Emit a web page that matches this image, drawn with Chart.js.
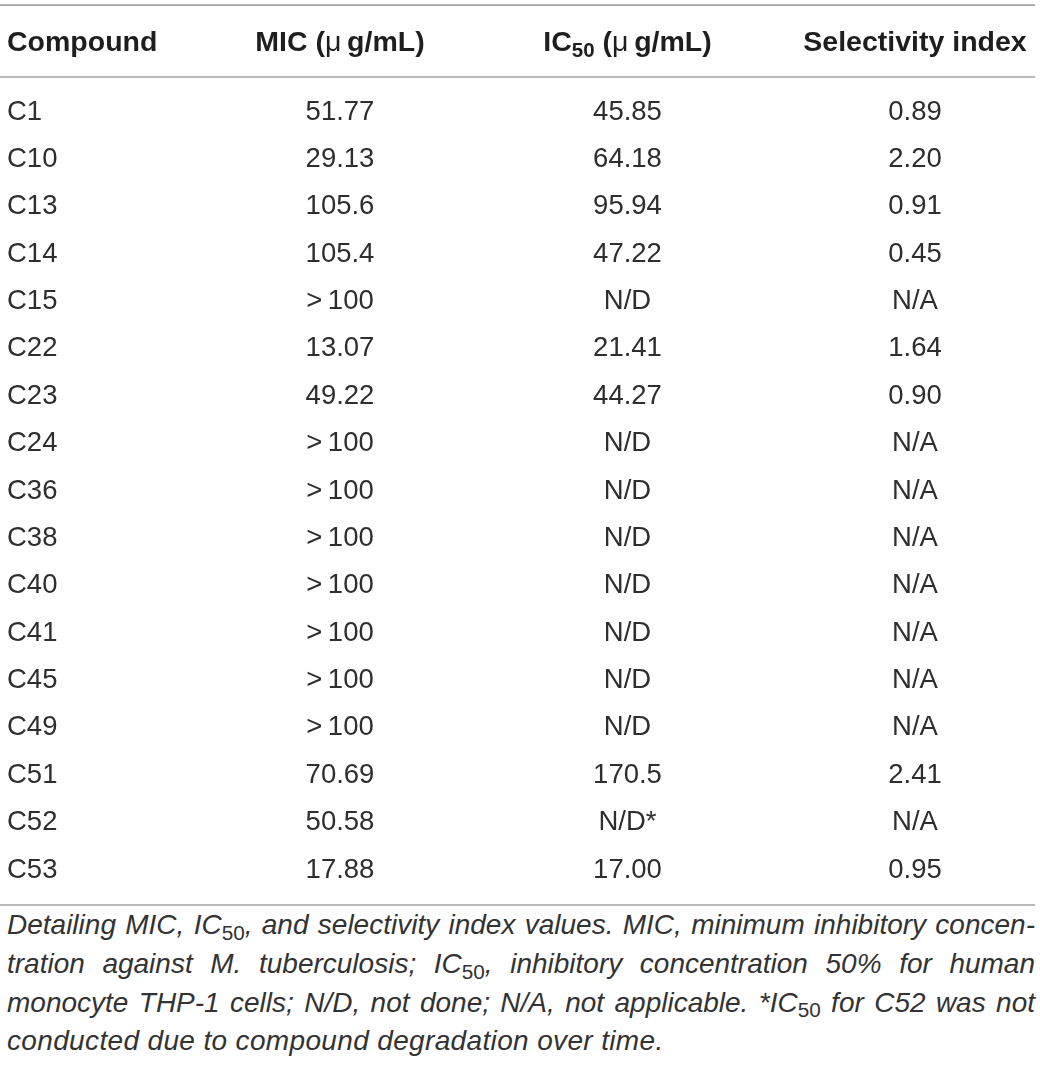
<!DOCTYPE html>
<html>
<head>
<meta charset="utf-8">
<script src="https://cdn.jsdelivr.net/npm/chart.js@4/dist/chart.umd.min.js"></script>
<style>
  html, body { margin: 0; padding: 0; background: #fff; }
  #wrap { position: relative; width: 1040px; height: 1066px; overflow: hidden; }
  #box { position: absolute; left: 0; top: 0; width: 1040px; height: 906px; }
  #caption { position: absolute; left: 7px; top: 906px; width: 1028px;
    font-family: "Liberation Sans", Arial, Helvetica, sans-serif; font-style: italic;
    font-size: 28px; color: #333; }
  #caption div { height: 38.8px; line-height: 38.8px; white-space: nowrap; }
  #caption .j { text-align: justify; text-align-last: justify; }
  #caption .last { letter-spacing: 0.35px; }
  #caption sub { font-style: normal; font-size: 0.74em; line-height: 0; vertical-align: baseline; position: relative; top: 0.28em; }
</style>
</head>
<body>
<div id="wrap">
  <div id="box"><canvas id="c"></canvas></div>
  <div id="caption">
    <div class="j">Detailing MIC, IC<sub>50</sub>, and selectivity index values. MIC, minimum inhibitory concen-</div>
    <div class="j">tration against M. tuberculosis; IC<sub>50</sub>, inhibitory concentration 50% for human</div>
    <div class="j">monocyte THP-1 cells; N/D, not done; N/A, not applicable. *IC<sub>50</sub> for C52 was not</div>
    <div class="last">conducted due to compound degradation over time.</div>
  </div>
</div>
<script>
// ---- data ----
const compounds = ['C1','C10','C13','C14','C15','C22','C23','C24','C36','C38','C40','C41','C45','C49','C51','C52','C53'];
const micValues = ['51.77','29.13','105.6','105.4','>100','13.07','49.22','>100','>100','>100','>100','>100','>100','>100','70.69','50.58','17.88'];
const ic50Values = ['45.85','64.18','95.94','47.22','N/D','21.41','44.27','N/D','N/D','N/D','N/D','N/D','N/D','N/D','170.5','N/D*','17.00'];
const siValues = ['0.89','2.20','0.91','0.45','N/A','1.64','0.90','N/A','N/A','N/A','N/A','N/A','N/A','N/A','2.41','N/A','0.95'];
const columnKeys = ['MIC','IC50','SI'];
const headerFirst = 'Compound';
const headerSegments = [
  [{t:'MIC (', b:true}, {t:'\u03bc', b:false}, {t:'\u2009g/mL)', b:true}],
  [{t:'IC', b:true}, {t:'50', b:true, sub:true}, {t:' (', b:true}, {t:'\u03bc', b:false}, {t:'\u2009g/mL)', b:true}],
  [{t:'Selectivity index', b:true}]
];

const FAMILY = '"Liberation Sans", Arial, Helvetica, sans-serif';
const BODY_SIZE = 27.5;
const HEAD_SIZE = 28.5;
const TEXT_COLOR = '#2e2e2e';
const HEAD_COLOR = '#1e1e1e';
const RULE_COLOR = '#a3a3a3';

function fmt(s) { return s.replace('>', '>\u2009'); }

const datasets = [micValues, ic50Values, siValues].map((vals, ci) => ({
  label: columnKeys[ci],
  data: compounds.map((c, ri) => ({ x: columnKeys[ci], y: c, text: fmt(vals[ri]) })),
  pointRadius: 0, pointHoverRadius: 0, showLine: false
}));

function drawRich(ctx, segs, x, y, align, size) {
  const fontFor = s => (s.b ? 'bold ' : '') + (s.sub ? size * 0.72 : size) + 'px ' + FAMILY;
  let total = 0;
  segs.forEach(s => { ctx.font = fontFor(s); total += ctx.measureText(s.t).width; });
  let cx = align === 'center' ? x - total / 2 : x;
  ctx.textAlign = 'left';
  ctx.textBaseline = 'middle';
  segs.forEach(s => {
    ctx.font = fontFor(s);
    ctx.fillText(s.t, cx, s.sub ? y + size * 0.28 : y);
    cx += ctx.measureText(s.t).width;
  });
}

const tablePlugin = {
  id: 'tablePlugin',
  afterDraw(chart) {
    const ctx = chart.ctx;
    const area = chart.chartArea;
    const xs = chart.scales.x;
    const ys = chart.scales.y;
    const step = (area.bottom - area.top) / (compounds.length - 1);
    ctx.save();
    // rules
    ctx.strokeStyle = RULE_COLOR;
    ctx.lineWidth = 1.6;
    const ruleLeft = 0, ruleRight = chart.width - 5;
    [area.top - 2.255 * step, area.top - 0.74 * step, area.bottom + 0.74 * step].forEach(yy => {
      ctx.beginPath(); ctx.moveTo(ruleLeft, yy); ctx.lineTo(ruleRight, yy); ctx.stroke();
    });
    // header
    ctx.fillStyle = HEAD_COLOR;
    const hy = area.top - 1.45 * step;
    drawRich(ctx, [{t: headerFirst, b: true}], ys.left, hy, 'left', HEAD_SIZE);
    headerSegments.forEach((segs, i) => {
      drawRich(ctx, segs, xs.getPixelForValue(i), hy, 'center', HEAD_SIZE);
    });
    // cells
    ctx.fillStyle = TEXT_COLOR;
    ctx.font = BODY_SIZE + 'px ' + FAMILY;
    ctx.textAlign = 'center';
    ctx.textBaseline = 'middle';
    chart.data.datasets.forEach((ds, di) => {
      const meta = chart.getDatasetMeta(di);
      meta.data.forEach((el, i) => {
        ctx.fillText(ds.data[i].text, el.x, el.y);
      });
    });
    ctx.restore();
  }
};

new Chart(document.getElementById('c'), {
  type: 'scatter',
  data: { datasets },
  options: {
    responsive: true,
    maintainAspectRatio: false,
    animation: false,
    events: [],
    layout: { padding: { left: 7, right: 125, top: 112, bottom: 36 } },
    plugins: { legend: { display: false }, tooltip: { enabled: false } },
    scales: {
      x: {
        type: 'category', labels: columnKeys, offset: false, display: false
      },
      y: {
        type: 'category', labels: compounds, offset: false,
        grid: { display: false }, border: { display: false },
        afterFit(scale) { scale.width = 333; },
        ticks: {
          crossAlign: 'far', padding: 0, autoSkip: false,
          color: TEXT_COLOR, font: { family: FAMILY, size: BODY_SIZE }
        }
      }
    }
  },
  plugins: [tablePlugin]
});
</script>
</body>
</html>
